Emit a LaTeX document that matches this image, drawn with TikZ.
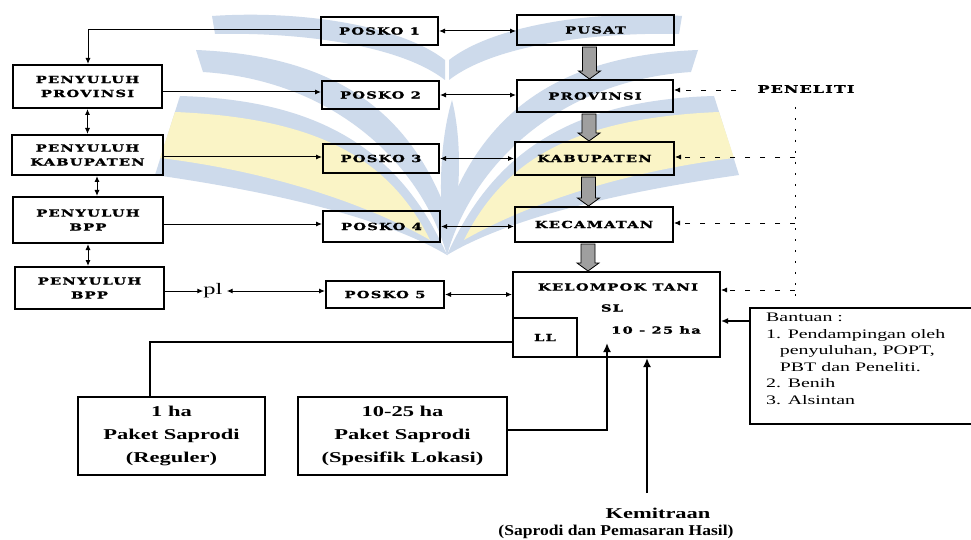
\documentclass[tikz,border=0pt]{standalone}
\usepackage{fontspec}
\setmainfont{Liberation Serif}
\newfontfamily\bx{DejaVu Serif}[FakeStretch=1.5,LetterSpace=12,FakeBold=1.4]
\newfontfamily\tb{Liberation Serif}[FakeStretch=1.5]
\newfontfamily\tbn{Liberation Serif}[FakeStretch=1.17]
\newfontfamily\tr{Liberation Serif}[FakeStretch=1.53]
\usetikzlibrary{arrows.meta,calc}
\definecolor{wmblue}{RGB}{205,218,235}
\definecolor{wmyellow}{RGB}{250,244,198}
\begin{document}
\begin{tikzpicture}[x=1pt,y=-1pt,
  bbox/.style={draw, line width=2pt, inner sep=0pt, align=center,
    font=\bx\bfseries\fontsize{9.8}{14}\selectfont},
  pbox/.style={draw, line width=2pt, inner sep=0pt, align=center,
    font=\tb\bfseries\fontsize{15}{23}\selectfont},
  lbl/.style={inner sep=0pt, font=\bx\bfseries\fontsize{9.8}{14}\selectfont},
  conn/.style={line width=1pt},
  arr/.style={conn, -{Latex[length=6pt,width=5pt]}},
  darr/.style={conn, {Latex[length=6pt,width=5pt]}-{Latex[length=6pt,width=5pt]}},
  dsh/.style={line width=0.8pt, dash pattern=on 5pt off 10pt, -{Latex[length=6pt,width=5pt]}},
  dot/.style={line width=0.8pt, dash pattern=on 2pt off 9pt},
  tarr/.style={line width=2.5pt, -{Latex[length=9pt,width=8pt]}},
  blkst/.style={draw=black, line width=0.8pt, fill=gray!75},
  wmb/.style={fill=wmblue},
  wmy/.style={fill=wmyellow},
]
\useasboundingbox (0,0) rectangle (971,540);
\fill[white] (0,0) rectangle (971,540);

% ---------- watermark ----------
\newcommand\wmhalf{%
  \path[wmb] (212,16) .. controls (300,10) and (400,25) .. (445,60)
     -- (445,80) .. controls (400,45) and (300,32) .. (215,34) -- cycle;
  \path[wmb] (196,50) .. controls (320,55) and (400,100) .. (442,200)
     -- (447,255) .. controls (420,160) and (330,80) .. (203,72) -- cycle;
  \path[wmb] (180,96) .. controls (320,100) and (400,150) .. (447,255)
     .. controls (380,215) and (260,190) .. (155,175) -- cycle;
  \path[wmy] (175,112) .. controls (320,118) and (390,160) .. (430,240)
     .. controls (360,200) and (260,170) .. (160,158) -- cycle;
}
\wmhalf
\begin{scope}[xshift=894pt,xscale=-1]
\wmhalf
\end{scope}
\path[wmb] (447,255) .. controls (437,200) and (440,140) .. (452,100)
   .. controls (462,140) and (462,200) .. (447,255);

% ---------- left column ----------
\node[bbox, minimum width=149, minimum height=43] (pprov) at (87.5,86.5) {PENYULUH\\PROVINSI};
\node[bbox, minimum width=151, minimum height=40] (pkab) at (87.5,155) {PENYULUH\\KABUPATEN};
\node[bbox, minimum width=150, minimum height=46] (pbpp1) at (88,220) {PENYULUH\\BPP};
\node[bbox, minimum width=149, minimum height=42] (pbpp2) at (89.5,288) {PENYULUH\\BPP};
\node[inner sep=0pt, font=\tr\fontsize{16}{18}\selectfont] (pl) at (213,291) {pl};

% ---------- posko column ----------
\node[bbox, minimum width=117, minimum height=28] (p1) at (379.5,31) {POSKO 1};
\node[bbox, minimum width=117, minimum height=28] (p2) at (380.5,95) {POSKO 2};
\node[bbox, minimum width=116, minimum height=29] (p3) at (381,158.5) {POSKO 3};
\node[bbox, minimum width=117, minimum height=31] (p4) at (381.5,226.5) {POSKO 4};
\node[bbox, minimum width=118, minimum height=27] (p5) at (385,294.5) {POSKO 5};

% ---------- right column ----------
\node[bbox, minimum width=157, minimum height=30] (pusat) at (595.5,30) {PUSAT};
\node[bbox, minimum width=156, minimum height=32] (prov) at (595,96) {PROVINSI};
\node[bbox, minimum width=159, minimum height=33] (kab) at (594.5,158.5) {KABUPATEN};
\node[bbox, minimum width=158, minimum height=35] (kec) at (594,224.5) {KECAMATAN};
\node[bbox, minimum width=207, minimum height=85] (kt) at (616.5,314.5) {};
\node[bbox, minimum width=64, minimum height=39] (ll) at (545,337.5) {LL};
\node[lbl] (ktt) at (618,287) {KELOMPOK TANI};
\node[lbl] (sl) at (612,308) {SL};
\node[lbl] (ha) at (656,330) {10 - 25 ha};

\node[lbl, font=\bx\bfseries\fontsize{10.5}{14}\selectfont] (pen) at (806,89) {PENELITI};

% Bantuan
\node[draw, line width=2pt, minimum width=240, minimum height=116, anchor=north west] (ban) at (749,307) {};
\node[anchor=north west, inner sep=0pt, align=left,
  font=\tr\fontsize{13}{16.5}\selectfont] (bant) at (766,313)
  {Bantuan :\\
   1. Pendampingan oleh\\
   \hspace*{1.05em}penyuluhan, POPT,\\
   \hspace*{1.05em}PBT dan Peneliti.\\
   2. Benih\\
   3. Alsintan};

% bottom boxes
\node[pbox, minimum width=187, minimum height=78] (reg) at (171.5,436) {1 ha\\Paket Saprodi\\(Reguler)};
\node[pbox, minimum width=209, minimum height=78] (spes) at (402.5,436) {10-25 ha\\Paket Saprodi\\(Spesifik Lokasi)};
\node[inner sep=0pt, font=\tb\bfseries\fontsize{15}{18}\selectfont] (kem) at (658,513) {Kemitraan};
\node[inner sep=0pt, font=\tbn\bfseries\fontsize{15}{18}\selectfont] (kem2) at (616,532) {(Saprodi dan Pemasaran Hasil)};

% ---------- connectors ----------
\coordinate (c1) at (88,30);
\draw[arr] (p1.west |- c1) -- (c1) -- (c1 |- pprov.north);
\draw[arr] (pprov.east |- 0,92) -- (p2.west |- 0,92);
\draw[arr] (pkab.east |- 0,157) -- (p3.west |- 0,157);
\draw[arr] (pbpp1.east |- 0,224) -- (p4.west |- 0,224);
\draw[arr] (pbpp2.east |- 0,291) -- (pl.west);
\draw[darr] ([xshift=4pt]pl.east) -- (p5.west |- pl);

\draw[darr] (pprov.south) -- (pkab.north);
\draw[darr] ([xshift=9.5pt]pkab.south) -- ([xshift=9.5pt]pkab.south |- pbpp1.north);
\draw[darr] ([xshift=-1.5pt]pbpp2.north |- pbpp1.south) -- ([xshift=-1.5pt]pbpp2.north);

\draw[darr] (p1.east) -- (p1.east -| pusat.west);
\draw[darr] (p2.east) -- (p2.east -| prov.west);
\draw[darr] (p3.east) -- (p3.east -| kab.west);
\draw[darr] (p4.east) -- (p4.east -| kec.west);
\draw[darr] (p5.east) -- (p5.east -| kt.west);

% block arrows
\newcommand\blkarr[2]{%
  \path ([xshift=-6pt]#1.south) coordinate (ba) (ba |- #2.north) coordinate (bb);
  \draw[blkst] ($(ba)+(-7,1)$) -- ($(bb)+(-7,-8)$) -- ($(bb)+(-11,-8)$) -- (bb)
     -- ($(bb)+(11,-8)$) -- ($(bb)+(7,-8)$) -- ($(ba)+(7,1)$) -- cycle;}
\blkarr{pusat}{prov}
\blkarr{prov}{kab}
\blkarr{kab}{kec}
\blkarr{kec}{kt}

% peneliti
\coordinate (vt) at (795,107);
\coordinate (vb) at (795,297);
\draw[dot] (vt) -- (vb);
\draw[dsh] (736,90) -- (prov.east |- 0,90);
\draw[dsh] (vt |- 0,157) -- (kab.east |- 0,157);
\draw[dsh] (vt |- 0,223) -- (kec.east |- 0,223);
\draw[dsh] (vt |- 0,290) -- (kt.east |- 0,290);

\draw[line width=1.5pt, -{Latex[length=7pt,width=6pt]}] (ban.west |- 0,321) -- (kt.east |- 0,321);

% bottom connectors
\draw[line width=1.5pt] (ll.west |- 0,342) -- (150,342) coordinate (c2) -- (c2 |- reg.north);
\draw[tarr] (spes.east |- 0,430) -- (607,430) coordinate (c3) -- (607,343);
\draw[tarr] (647,493) coordinate (c4) -- (c4 |- kt.south);
\end{tikzpicture}
\end{document}
